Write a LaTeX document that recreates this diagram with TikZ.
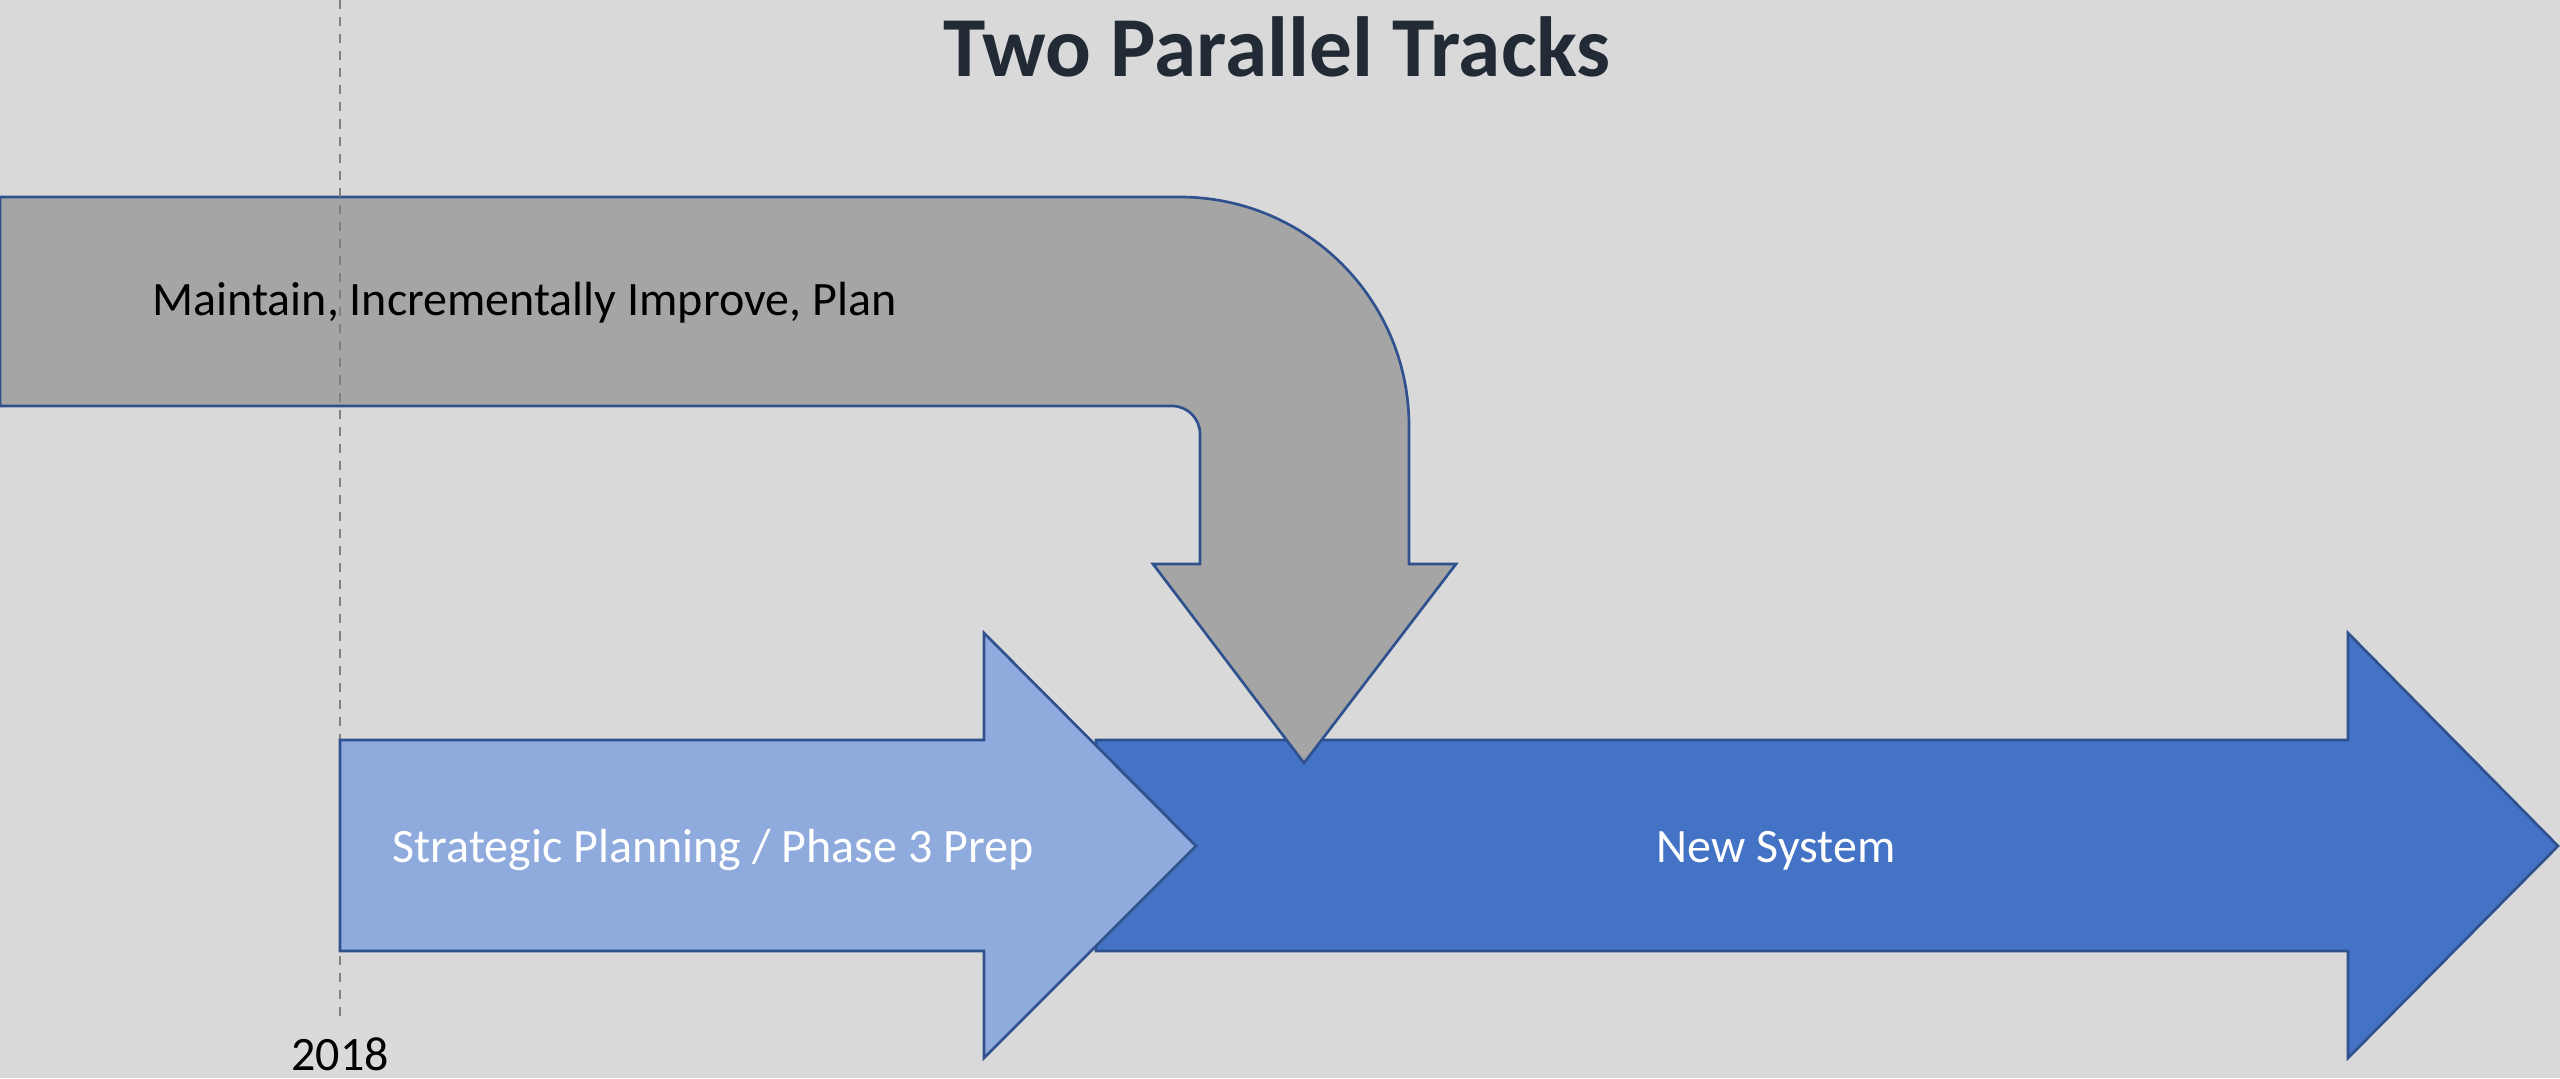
\documentclass[tikz,border=0pt]{standalone}
\usepackage{fontspec}
\setmainfont{Carlito}
\definecolor{bg}{HTML}{D9D9D9}
\definecolor{grayfill}{HTML}{A5A5A5}
\definecolor{lightblue}{HTML}{8FAADC}
\definecolor{darkblue}{HTML}{4472C4}
\definecolor{edge}{HTML}{2F528F}
\definecolor{titlecol}{HTML}{222A35}
\definecolor{dashcol}{HTML}{808080}
\tikzset{
  shapeedge/.style={draw=edge, line width=1pt, line join=miter},
  bodytext/.style={font=\fontsize{18}{21}\selectfont, anchor=base, inner sep=0pt},
  titletext/.style={font=\fontsize{32}{38}\selectfont\bfseries, text=titlecol, anchor=base, inner sep=0pt},
  yearline/.style={draw=dashcol, line width=0.8pt, dash pattern=on 3.4pt off 3pt}
}
\begin{document}
\begin{tikzpicture}[x=0.375pt, y=-0.375pt]
\fill[bg] (0,0) rectangle (2560,1078);
\useasboundingbox (0,0) rectangle (2560,1078);
% New System arrow
\path[fill=darkblue, shapeedge] (1096,740) -- (2348,740) -- (2348,633) -- (2558,846) -- (2348,1058) -- (2348,951) -- (1096,951) -- cycle;
% Bent gray arrow
\path[fill=grayfill, shapeedge] (0,197) -- (1180,197)
  .. controls (1306.5,197) and (1409,299.5) .. (1409,426)
  -- (1409,564) -- (1456,564) -- (1304,763) -- (1153,564) -- (1200,564) -- (1200,434)
  .. controls (1200,418.5) and (1187.5,406) .. (1172,406)
  -- (0,406) -- cycle;
% dashed year line
\coordinate (ytop) at (340,0);
\coordinate (ybot) at (340,1018);
\draw[yearline] (ytop) -- (ybot);
% Strategic planning arrow
\path[fill=lightblue, shapeedge] (340,740) -- (984,740) -- (984,633) -- (1196,846) -- (984,1058) -- (984,951) -- (340,951) -- cycle;
% texts
\node[titletext] (title) at (1277,76) {Two Parallel Tracks};
\node[bodytext, anchor=base west] (maintain) at (152,315) {Maintain, Incrementally Improve, Plan};
\node[bodytext, text=white] (strategic) at (713,862) {Strategic Planning / Phase 3 Prep};
\node[bodytext, text=white] (newsys) at (1776,862) {New System};
\node[bodytext] (year) at (340,1070) {2018};
\end{tikzpicture}
\end{document}
